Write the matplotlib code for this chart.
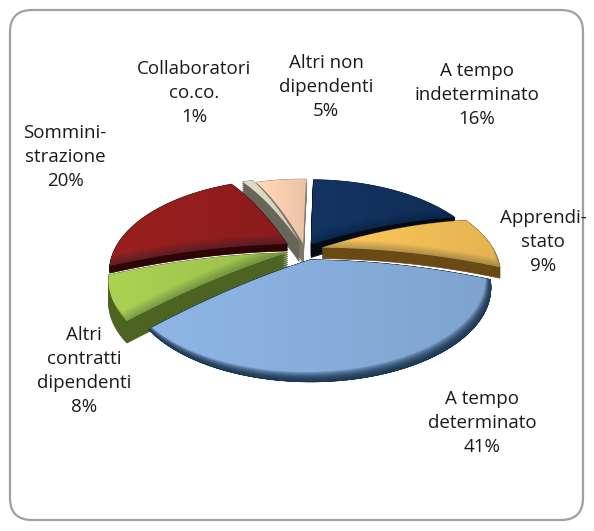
import numpy as np
import matplotlib
matplotlib.use("Agg")
import matplotlib.pyplot as plt
from matplotlib.patches import Polygon, FancyBboxPatch, PathPatch
from matplotlib.path import Path
from matplotlib.colors import to_rgb

names = ["A tempo\nindeterminato", "Apprendi-\nstato", "A tempo\ndeterminato",
         "Altri\ncontratti\ndipendenti", "Sommini-\nstrazione",
         "Collaboratori\nco.co.", "Altri non\ndipendenti"]
values = [16, 9, 41, 8, 20, 1, 5]

top_colors = ["#12305c", "#f0bd55", "#86acd9", "#a2c64e", "#911e1d", "#d8d4bd", "#f6cdae"]
side_colors = ["#040a14", "#6a4a14", "#16344f", "#4c6322", "#2e0505", "#66665a", "#80786a"]
explode = [0.07, 0.10, 0.11, 0.10, 0.12, 0.10, 0.07]
depth = [13, 11, 1, 22, 7, 20, 20]
rim_dark = [0.03, 0.02, 0.10, 0.02, 0.03, 0.0, 0.0]
draw_order = [6, 5, 4, 0, 1, 3, 2]
label_pos = [(477, 95), (543, 242), (482, 423), (84, 371), (65, 157), (194, 93), (326, 87)]

start_angle = 1
cx, cy = 305, 250
rx, k, d = 178, 91.5, 0.0935
dome = 18


def slice_xy(a0, a1, e):
    # angles clockwise from 12 o'clock, v points to the viewer
    mid = np.radians((a0 + a1) / 2)
    t = np.radians(np.linspace(a0, a1, 80))
    r0 = np.linspace(0, 1, 25)
    r = np.r_[r0, np.ones(80), r0[::-1]]
    t = np.r_[np.full(25, t[0]), t, np.full(25, t[-1])]
    u = r * np.sin(t) + e * np.sin(mid)
    v = -r * np.cos(t) - e * np.cos(mid)
    w = 1 - d * v
    # the surface falls away towards the rim
    return np.column_stack([cx + rx * u / w, cy + k * v / w + dome * r ** 2])


fig = plt.figure(figsize=(5.94, 5.31), dpi=100)
ax = fig.add_axes([0, 0, 1, 1])
ax.axis("off")

ax.add_patch(FancyBboxPatch((30, 30), 533, 470, boxstyle="round,pad=20,rounding_size=22",
                            fc="white", ec="#a0a0a0", lw=1.6, zorder=0.5))

edges = start_angle + np.r_[0, np.cumsum(values)] * 360 / np.sum(values)
for order, i in enumerate(draw_order):
    z = 2 + order
    xy = slice_xy(edges[i], edges[i + 1], explode[i])
    for h in np.linspace(depth[i], 0, 12):
        ax.add_patch(Polygon(xy + [0, h], fc=side_colors[i], ec=side_colors[i], lw=0.5, zorder=z))

    # top face: horizontal shading, light on the left
    base = Polygon(xy, fc="none", ec="none", zorder=z)
    ax.add_patch(base)
    c = np.array(to_rgb(top_colors[i]))
    ramp = np.linspace(1.06, 0.95, 64)[None, :, None] * c
    x0, x1 = xy[:, 0].min(), xy[:, 0].max()
    y0, y1 = xy[:, 1].min(), xy[:, 1].max()
    im = ax.imshow(np.clip(ramp, 0, 1), extent=[x0, x1, y1, y0], aspect="auto", zorder=z + 0.1)
    im.set_clip_path(base)

    # dark crescent along the lower right of the rim
    if rim_dark[i] > 0:
        for s in np.linspace(0.15, 1, 9):
            hole = xy + [-5 * s, -9 * s]
            area = np.sum(hole[:-1, 0] * hole[1:, 1] - hole[1:, 0] * hole[:-1, 1])
            if area > 0:
                hole = hole[::-1]
            box = np.array([[0, 0], [594, 0], [594, 531], [0, 531], [0, 0]], float)
            verts = np.r_[box, hole, hole[:1]]
            codes = [Path.MOVETO] + [Path.LINETO] * 3 + [Path.CLOSEPOLY]
            codes += [Path.MOVETO] + [Path.LINETO] * (len(hole) - 1) + [Path.CLOSEPOLY]
            shade = PathPatch(Path(verts, codes), fc="#0a2238", ec="none",
                              alpha=rim_dark[i] * 1.6, zorder=z + 0.2)
            ax.add_patch(shade)
            shade.set_clip_path(base)

ax.set_xlim(0, 594)
ax.set_ylim(531, 0)

for i in range(len(values)):
    ax.text(label_pos[i][0], label_pos[i][1], f"{names[i]}\n{values[i]}%", ha="center", va="center",
            family="Open Sans", fontsize=13.5, color="#1a1a1a", linespacing=1.42, zorder=20)

fig.savefig("out.png", dpi=100)
